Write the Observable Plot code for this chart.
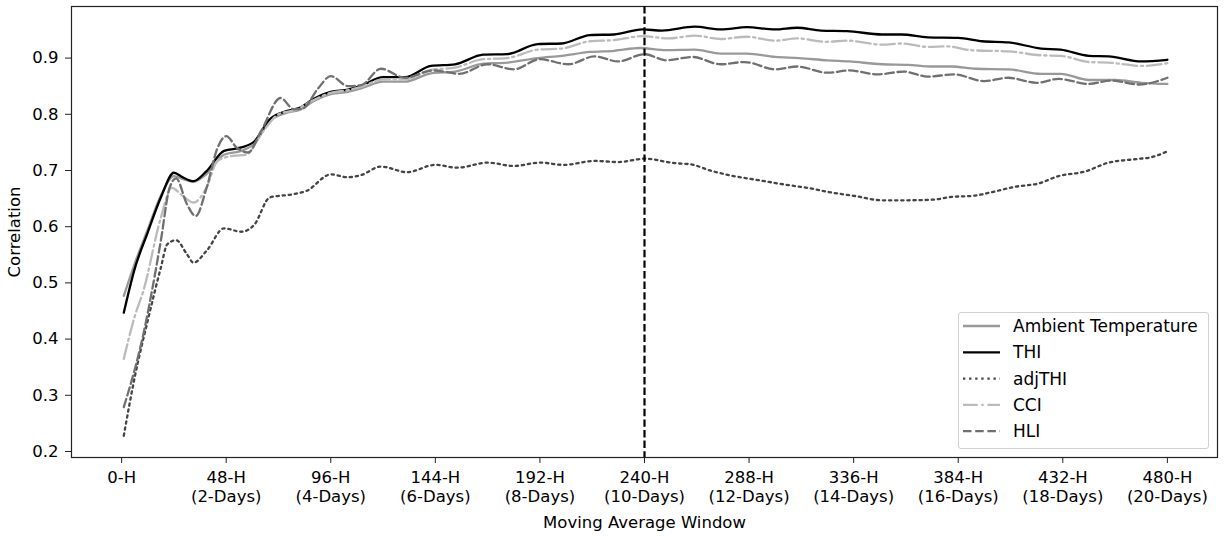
<!DOCTYPE html>
<html>
<head>
<meta charset="utf-8">
<script src="https://cdn.jsdelivr.net/npm/d3@7"></script>
<script src="https://cdn.jsdelivr.net/npm/@observablehq/plot@0.6"></script>
<style>
  html, body { margin: 0; padding: 0; background: #fff; }
  #wrap { position: relative; width: 1225px; height: 536px; font-family: "DejaVu Sans", sans-serif; }
  #legend { position: absolute; left: 958px; top: 312px; width: 251px; height: 137px; box-sizing: border-box;
    border: 1px solid #d0d0d0; border-radius: 3px; background: rgba(255,255,255,0.85); }
  #legend svg { display: block; }
</style>
</head>
<body>
<div id="wrap"><div id="chart"></div><div id="legend"></div></div>
<script>
// Moving-average window (hours) and correlation
const ambientTemperature = [[1,0.477],[6,0.534],[12,0.595],[18,0.655],[24,0.690],[28,0.685],[33,0.680],[39,0.694],[47,0.728],[55,0.735],[61,0.748],[68,0.788],[76,0.803],[82,0.808],[88,0.823],[96,0.836],[104,0.840],[110,0.846],[120,0.858],[130,0.858],[142,0.873],[153,0.876],[166,0.890],[177,0.892],[191,0.900],[202,0.904],[215,0.911],[226,0.913],[238,0.918],[250,0.914],[263,0.915],[275,0.908],[287,0.908],[300,0.902],[311,0.900],[324,0.896],[334,0.894],[349,0.889],[361,0.888],[372,0.885],[381,0.885],[392,0.881],[407,0.880],[422,0.872],[431,0.872],[444,0.861],[456,0.861],[468,0.856],[480,0.854]];
const thi = [[1,0.447],[6,0.525],[12,0.590],[18,0.652],[24,0.696],[28,0.688],[33,0.681],[39,0.699],[47,0.735],[55,0.741],[61,0.752],[68,0.791],[76,0.806],[82,0.812],[88,0.827],[96,0.840],[104,0.844],[110,0.851],[120,0.866],[130,0.866],[142,0.886],[153,0.889],[166,0.906],[177,0.907],[191,0.925],[202,0.926],[215,0.941],[226,0.942],[239,0.951],[248,0.949],[263,0.956],[275,0.951],[287,0.955],[300,0.951],[310,0.954],[321,0.949],[333,0.948],[349,0.942],[358,0.942],[370,0.937],[384,0.936],[395,0.930],[407,0.928],[422,0.917],[431,0.915],[444,0.904],[453,0.903],[468,0.894],[480,0.897]];
const adjThi = [[1,0.228],[6,0.332],[12,0.433],[18,0.527],[21,0.569],[25,0.576],[30,0.551],[33,0.536],[39,0.557],[47,0.597],[55,0.591],[61,0.604],[68,0.652],[79,0.658],[85,0.664],[96,0.693],[104,0.688],[110,0.692],[119,0.707],[131,0.697],[144,0.710],[154,0.705],[168,0.714],[180,0.708],[192,0.714],[203,0.710],[217,0.717],[228,0.715],[240,0.721],[254,0.713],[261,0.711],[271,0.699],[281,0.690],[292,0.683],[306,0.674],[315,0.669],[327,0.660],[336,0.655],[349,0.647],[361,0.647],[372,0.648],[381,0.653],[391,0.655],[399,0.661],[410,0.671],[421,0.677],[430,0.690],[442,0.698],[453,0.714],[465,0.720],[473,0.724],[480,0.734]];
const cci = [[1,0.365],[6,0.440],[10,0.486],[18,0.616],[23,0.669],[28,0.655],[33,0.643],[39,0.670],[44,0.717],[51,0.726],[57,0.728],[65,0.770],[72,0.800],[80,0.808],[88,0.825],[96,0.838],[104,0.843],[110,0.849],[120,0.862],[130,0.862],[142,0.879],[153,0.883],[166,0.898],[177,0.900],[191,0.915],[202,0.917],[215,0.930],[226,0.932],[239,0.939],[251,0.935],[263,0.940],[275,0.934],[287,0.938],[300,0.931],[310,0.935],[323,0.929],[333,0.931],[349,0.924],[358,0.926],[370,0.920],[379,0.921],[390,0.914],[407,0.912],[422,0.905],[431,0.904],[444,0.893],[453,0.892],[468,0.886],[480,0.891]];
const hli = [[1,0.279],[10,0.409],[18,0.575],[22,0.669],[25,0.686],[30,0.640],[34,0.619],[39,0.669],[44,0.740],[48,0.761],[53,0.740],[58,0.732],[64,0.770],[73,0.829],[79,0.809],[83,0.810],[90,0.845],[96,0.868],[104,0.850],[110,0.852],[119,0.881],[130,0.865],[143,0.878],[155,0.872],[168,0.889],[180,0.880],[192,0.898],[205,0.889],[217,0.903],[228,0.894],[240,0.907],[250,0.896],[262,0.902],[275,0.889],[286,0.893],[300,0.880],[310,0.885],[324,0.874],[334,0.878],[347,0.871],[359,0.876],[370,0.867],[382,0.871],[396,0.859],[407,0.865],[420,0.856],[430,0.863],[444,0.854],[454,0.860],[467,0.853],[480,0.865]];

const seriesNames = ["Ambient Temperature", "THI", "adjTHI", "CCI", "HLI"];
const xTicks = [0, 48, 96, 144, 192, 240, 288, 336, 384, 432, 480];
const xTickLabels = ["0-H", "48-H\n(2-Days)", "96-H\n(4-Days)", "144-H\n(6-Days)", "192-H\n(8-Days)", "240-H\n(10-Days)", "288-H\n(12-Days)", "336-H\n(14-Days)", "384-H\n(16-Days)", "432-H\n(18-Days)", "480-H\n(20-Days)"];
const yTicks = [0.2, 0.3, 0.4, 0.5, 0.6, 0.7, 0.8, 0.9];
const markerHour = [240];

const LW = 2.3;
const styles = [
  {data: ambientTemperature, stroke: "#999999", dash: null},
  {data: thi, stroke: "#000000", dash: null},
  {data: adjThi, stroke: "#444444", dash: "2.3,3.8"},
  {data: cci, stroke: "#bbbbbb", dash: "14.7,3.7,2.3,3.7"},
  {data: hli, stroke: "#707070", dash: "8.5,3.7"}
];

const toRows = (arr) => arr.map(([h, v]) => ({h, v}));

const chart = Plot.plot({
  width: 1225,
  height: 536,
  marginLeft: 71,
  marginRight: 8,
  marginTop: 6,
  marginBottom: 79,
  style: {fontFamily: "DejaVu Sans, sans-serif", fontSize: "16.5px", color: "#000", background: "#fff"},
  x: {domain: [-23, 503]},
  y: {domain: [0.1893, 0.9918]},
  marks: [
    Plot.frame({stroke: "#222", strokeWidth: 1.2}),
    ...styles.map(s => Plot.line(toRows(s.data), {x: "h", y: "v", stroke: s.stroke, strokeWidth: LW, strokeDasharray: s.dash, curve: "monotone-x"})),
    Plot.ruleX(markerHour, {stroke: "#000", strokeWidth: 2.2, strokeDasharray: "7.4,3.2"}),
    Plot.axisX({ticks: xTicks, tickFormat: (d) => xTickLabels[xTicks.indexOf(d)], tickSize: 6, tickPadding: 5, fontSize: 16.5, lineHeight: 1.2, label: "Moving Average Window", labelAnchor: "center", labelArrow: "none", labelOffset: 70, stroke: "#222"}),
    Plot.axisY({ticks: yTicks, tickFormat: d3.format(".1f"), tickSize: 6, tickPadding: 7, fontSize: 16.5, label: "Correlation", labelAnchor: "center", labelArrow: "none", labelOffset: 63, stroke: "#222"})
  ]
});
document.getElementById("chart").appendChild(chart);

// Legend
const lg = d3.select("#legend").append("svg").attr("width", 249).attr("height", 135);
seriesNames.forEach((name, i) => {
  const y = 13 + i * 26.3;
  const st = styles[i];
  lg.append("line").attr("x1", 4).attr("x2", 41).attr("y1", y).attr("y2", y)
    .attr("stroke", st.stroke).attr("stroke-width", LW).attr("stroke-dasharray", st.dash);
  lg.append("text").attr("x", 54).attr("y", y).attr("dy", "0.35em")
    .attr("font-family", "DejaVu Sans, sans-serif").attr("font-size", "17px").attr("fill", "#000").text(name);
});
</script>
</body>
</html>
